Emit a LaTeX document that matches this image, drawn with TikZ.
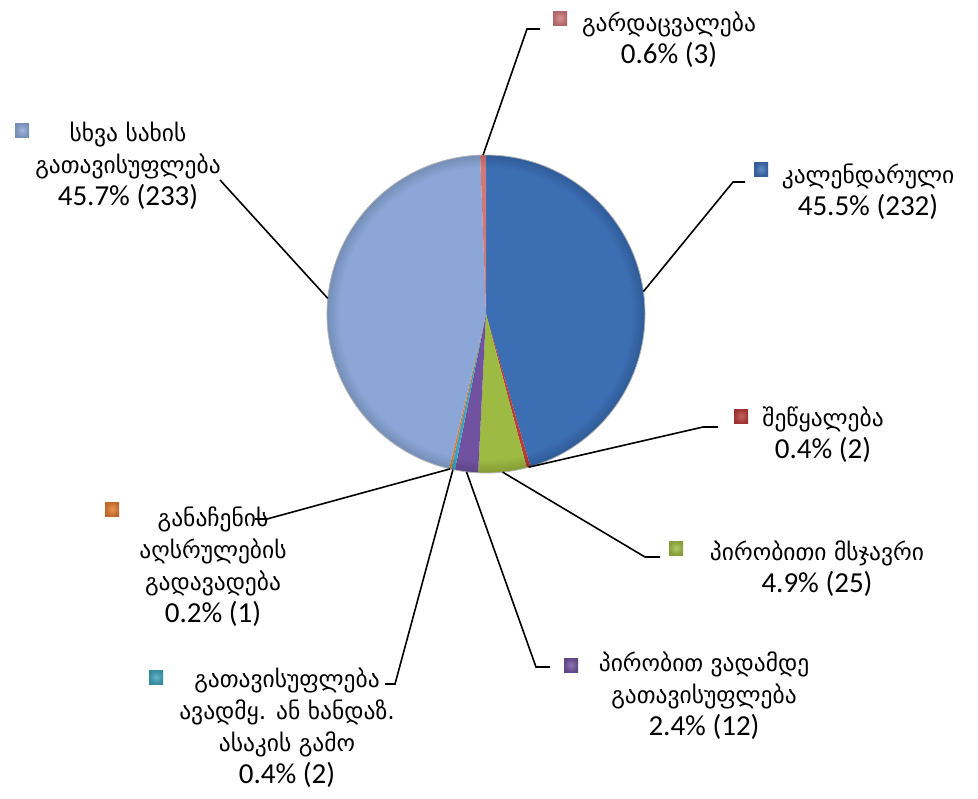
\documentclass[tikz,border=0pt]{standalone}
\usepackage{fontspec}
\setmainfont{Carlito}
\newfontfamily\geo{DejaVu Sans}[Scale=0.81]
\usetikzlibrary{calc}

\definecolor{kal}{HTML}{3C6EB4}
\definecolor{shew}{HTML}{B83C3A}
\definecolor{msk}{HTML}{9DBB42}
\definecolor{vad}{HTML}{7152A0}
\definecolor{asak}{HTML}{3FA3BB}
\definecolor{gan}{HTML}{E07B2E}
\definecolor{skh}{HTML}{8CA7D7}
\definecolor{gard}{HTML}{D0787A}

\tikzset{
  lbl/.style={align=center, anchor=base, inner sep=0pt, font=\fontsize{14.5}{16}\selectfont},
  legsq/.style={inner color=#1!80!white, outer color=#1!85!black, minimum size=7pt, inner sep=0pt},
  leader/.style={draw=black, line width=0.8pt}
}

\begin{document}
\begin{tikzpicture}[x=0.5pt,y=-0.5pt]
  \useasboundingbox (0,0) rectangle (978,798);
  % slices clockwise from the top: running count from/to (of 510)
  \newcommand{\slices}{0/232/kal, 232/234/shew, 234/259/msk, 259/271/vad,
                       271/273/asak, 273/274/gan, 274/507/skh, 507/510/gard}
  \begin{scope}[shift={(486,314)}, yscale=-1]
    \foreach \a/\b/\col in \slices {
      \pgfmathsetmacro{\sa}{90-\a/510*360}
      \pgfmathsetmacro{\ea}{90-\b/510*360}
      \pgfmathsetmacro{\ma}{(\sa+\ea)/2}
      \fill[\col] (0,0) -- (\sa:159) arc[start angle=\sa, end angle=\ea, radius=159] -- cycle;
      \coordinate (s-\col) at (\ma:159);
    }
    % slightly darker rim
    \begin{scope}
      \clip (0,0) circle[radius=159];
      \foreach \w in {2,4,...,12}
        \draw[black, opacity=0.025, line width=\w pt] (0,0) circle[radius=159];
    \end{scope}
    \draw[black!30, line width=0.4pt] (0,0) circle[radius=159];
  \end{scope}

  % labels (placed at the baseline of the last line)
  \node[lbl] (gard) at (669,63) {{\geo გარდაცვალება}\\0.6\% (3)};
  \node[lbl] (kal) at (868,215) {{\geo კალენდარული}\\45.5\% (232)};
  \node[lbl] (shew) at (823,458) {{\geo შეწყალება}\\0.4\% (2)};
  \node[lbl] (msk) at (817,592) {{\geo პირობითი მსჯავრი}\\4.9\% (25)};
  \node[lbl] (vad) at (704,735) {{\geo პირობით ვადამდე}\\{\geo გათავისუფლება}\\2.4\% (12)};
  \node[lbl] (asak) at (287,783) {{\geo გათავისუფლება}\\{\geo ავადმყ. ან ხანდაზ.}\\{\geo ასაკის გამო}\\0.4\% (2)};
  \node[lbl] (gan) at (213,622) {{\geo განაჩენის}\\{\geo აღსრულების}\\{\geo გადავადება}\\0.2\% (1)};
  \node[lbl] (skh) at (128,205) {{\geo სხვა სახის}\\{\geo გათავისუფლება}\\45.7\% (233)};

  % legend keys
  \foreach \k/\x/\y in {gard/560/18, kal/761/169, shew/741/416, msk/676/548,
                        vad/571/665, asak/156/677, gan/112/509, skh/22/130}
    \node[legsq=\k] (m-\k) at (\x,\y) {};

  % leader lines: slice -- bend -- end
  \foreach \k/\bx/\by/\ex in {gard/527/29/540, kal/733/182/745, shew/703/427/718,
                              msk/645/557/660, vad/536/667/550, asak/395/684/385,
                              gan/267/519/255, skh/220/180/220}
    \draw[leader] (s-\k) -- (\bx,\by) -- (\ex,\by);
\end{tikzpicture}
\end{document}
